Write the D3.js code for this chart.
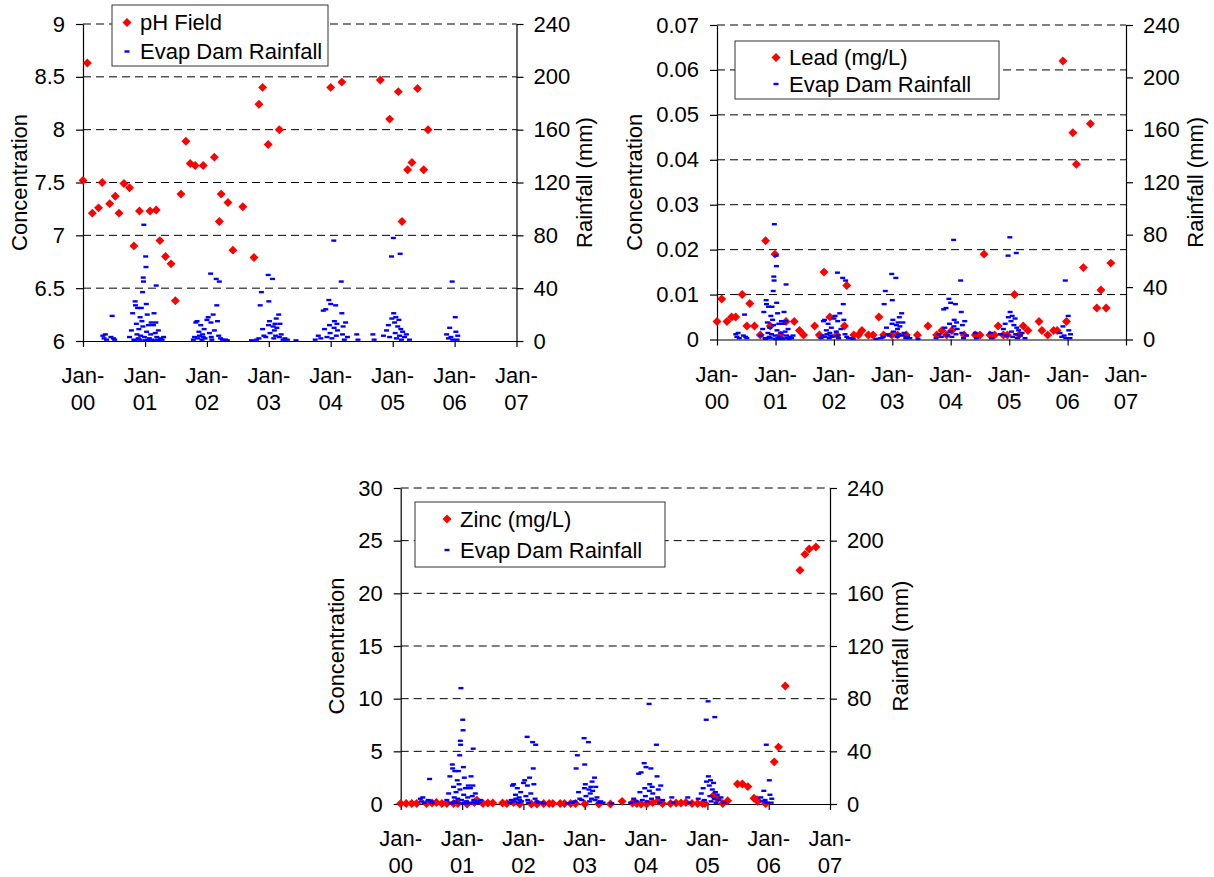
<!DOCTYPE html>
<html>
<head>
<meta charset="utf-8">
<script src="https://cdn.jsdelivr.net/npm/d3@7"></script>
<style>
  html, body { margin: 0; padding: 0; background: #fff; }
  svg { display: block; font-family: "Liberation Sans", Arial, sans-serif; }
</style>
</head>
<body>
<svg id="chart" width="1214" height="877"></svg>
<script>
// x axis: one tick every January, 2000 to 2007
const tickYears = [2000, 2001, 2002, 2003, 2004, 2005, 2006, 2007];
const tickYearLabels = ["00", "01", "02", "03", "04", "05", "06", "07"];
const rainTicks = [0, 40, 80, 120, 160, 200, 240];

// sample dates are decimal years
const phField = [
  [2000.00, 7.52], [2000.07, 8.63], [2000.15, 7.21], [2000.25, 7.26], [2000.31, 7.50],
  [2000.43, 7.30], [2000.52, 7.37], [2000.58, 7.21], [2000.66, 7.49], [2000.75, 7.45],
  [2000.82, 6.90], [2000.91, 7.23], [2001.08, 7.23], [2001.18, 7.24], [2001.24, 6.95],
  [2001.33, 6.80], [2001.42, 6.73], [2001.49, 6.38], [2001.58, 7.39], [2001.66, 7.89],
  [2001.73, 7.68], [2001.81, 7.66], [2001.94, 7.66], [2002.12, 7.74], [2002.20, 7.13],
  [2002.23, 7.39], [2002.34, 7.31], [2002.42, 6.86], [2002.58, 7.27], [2002.76, 6.79],
  [2002.84, 8.24], [2002.90, 8.40], [2002.99, 7.86], [2003.17, 8.00], [2004.00, 8.40],
  [2004.18, 8.45], [2004.80, 8.47], [2004.95, 8.10], [2005.09, 8.36], [2005.15, 7.13],
  [2005.24, 7.62], [2005.31, 7.69], [2005.40, 8.39], [2005.50, 7.62], [2005.57, 8.00]
];

const lead = [
  [2000.00, 0.004], [2000.08, 0.009], [2000.17, 0.004], [2000.25, 0.005], [2000.32, 0.005],
  [2000.43, 0.010], [2000.51, 0.003], [2000.56, 0.008], [2000.64, 0.003], [2000.74, 0.001],
  [2000.83, 0.022], [2000.91, 0.003], [2000.99, 0.019], [2001.09, 0.001], [2001.18, 0.004],
  [2001.32, 0.004], [2001.41, 0.002], [2001.48, 0.001], [2001.67, 0.003], [2001.75, 0.001],
  [2001.83, 0.015], [2001.93, 0.005], [2002.05, 0.001], [2002.18, 0.003], [2002.22, 0.012],
  [2002.34, 0.001], [2002.42, 0.001], [2002.48, 0.002], [2002.59, 0.001], [2002.67, 0.001],
  [2002.77, 0.005], [2002.85, 0.001], [2002.99, 0.001], [2003.09, 0.001], [2003.24, 0.001],
  [2003.43, 0.001], [2003.61, 0.003], [2003.76, 0.001], [2003.85, 0.002], [2003.93, 0.001],
  [2004.02, 0.002], [2004.23, 0.001], [2004.42, 0.001], [2004.50, 0.001], [2004.57, 0.019],
  [2004.67, 0.001], [2004.75, 0.001], [2004.81, 0.003], [2004.90, 0.001], [2004.97, 0.001],
  [2005.09, 0.010], [2005.17, 0.001], [2005.24, 0.003], [2005.32, 0.002], [2005.51, 0.004],
  [2005.56, 0.002], [2005.66, 0.001], [2005.76, 0.002], [2005.82, 0.002], [2005.92, 0.062],
  [2005.98, 0.004], [2006.09, 0.046], [2006.15, 0.039], [2006.27, 0.016], [2006.39, 0.048],
  [2006.50, 0.007], [2006.57, 0.011], [2006.66, 0.007], [2006.74, 0.017]
];

const zinc = [
  [2000.00, 0.05], [2000.09, 0.05], [2000.18, 0.05], [2000.26, 0.05], [2000.42, 0.05],
  [2000.51, 0.1], [2000.58, 0.15], [2000.67, 0.05], [2000.75, 0.05], [2000.86, 0.05],
  [2000.93, 0.05], [2001.08, 0.0], [2001.20, 0.15], [2001.24, 0.35], [2001.34, 0.05],
  [2001.42, 0.1], [2001.50, 0.1], [2001.66, 0.1], [2001.73, 0.05], [2001.84, 0.15],
  [2001.94, 0.0], [2002.13, 0.0], [2002.22, 0.0], [2002.33, 0.05], [2002.42, 0.05],
  [2002.48, 0.05], [2002.60, 0.05], [2002.67, 0.05], [2002.77, 0.05], [2002.85, 0.05],
  [2003.00, 0.0], [2003.23, 0.0], [2003.42, 0.0], [2003.61, 0.25], [2003.78, 0.1],
  [2003.85, 0.05], [2003.92, 0.0], [2004.01, 0.0], [2004.11, 0.15], [2004.20, 0.3],
  [2004.27, 0.05], [2004.40, 0.05], [2004.49, 0.1], [2004.57, 0.1], [2004.65, 0.15],
  [2004.75, 0.05], [2004.84, 0.05], [2004.92, 0.05], [2004.96, 0.05], [2005.10, 0.8],
  [2005.16, 0.5], [2005.25, 0.05], [2005.33, 0.3], [2005.49, 1.9], [2005.57, 1.9],
  [2005.66, 1.65], [2005.76, 0.55], [2005.81, 0.4], [2005.82, 0.25], [2005.95, 0.05],
  [2006.09, 4.0], [2006.16, 5.4], [2006.27, 11.2], [2006.51, 22.2], [2006.59, 23.7],
  [2006.66, 24.2], [2006.77, 24.4]
];

// Evap Dam rainfall (mm), same series on every panel
const rainfall = [
  [2000.32, 4], [2000.34, 2], [2000.36, 5], [2000.38, 1], [2000.45, 3], [2000.47, 19],
  [2000.49, 2], [2000.51, 1],
  [2000.75, 3], [2000.78, 8], [2000.80, 21], [2000.82, 1], [2000.83, 0.5], [2000.84, 30],
  [2000.845, 27], [2000.86, 13], [2000.87, 5], [2000.88, 25], [2000.89, 2], [2000.90, 9],
  [2000.91, 1], [2000.92, 18], [2000.93, 4], [2000.94, 25], [2000.95, 15], [2000.96, 37],
  [2000.965, 11], [2000.97, 48], [2000.975, 45], [2000.98, 88], [2000.99, 3], [2000.995, 0.5],
  [2001.01, 64], [2001.015, 56], [2001.02, 28], [2001.025, 7], [2001.035, 20], [2001.04, 1],
  [2001.05, 0.5], [2001.055, 12], [2001.07, 2], [2001.09, 5], [2001.10, 14], [2001.11, 1],
  [2001.12, 0.5], [2001.135, 12], [2001.145, 21], [2001.165, 6], [2001.175, 14], [2001.18, 42],
  [2001.19, 3], [2001.20, 1], [2001.215, 8], [2001.23, 0.5], [2001.25, 2], [2001.275, 1],
  [2001.30, 3],
  [2001.78, 1], [2001.80, 3], [2001.82, 14], [2001.84, 15], [2001.85, 2], [2001.87, 7],
  [2001.88, 4], [2001.90, 12], [2001.92, 1], [2001.93, 5], [2001.94, 3], [2001.955, 9],
  [2001.97, 2], [2002.00, 16], [2002.02, 18], [2002.04, 6], [2002.06, 51], [2002.065, 14],
  [2002.07, 3], [2002.08, 1], [2002.10, 20], [2002.12, 8], [2002.15, 47], [2002.16, 27],
  [2002.17, 15], [2002.20, 45], [2002.19, 4], [2002.22, 2], [2002.25, 1], [2002.30, 1],
  [2002.33, 0.5],
  [2002.72, 0.5], [2002.80, 1], [2002.84, 2], [2002.86, 27], [2002.88, 37], [2002.90, 9],
  [2002.92, 4], [2002.95, 3], [2002.99, 50], [2002.995, 12], [2003.00, 30], [2003.01, 15],
  [2003.02, 6], [2003.06, 47], [2003.07, 11], [2003.08, 2], [2003.09, 8], [2003.10, 13],
  [2003.11, 4], [2003.12, 17], [2003.13, 10], [2003.16, 20], [2003.17, 3], [2003.18, 13],
  [2003.20, 5], [2003.23, 1], [2003.26, 2], [2003.30, 1], [2003.44, 0.5],
  [2003.75, 1], [2003.80, 4], [2003.84, 2], [2003.88, 23], [2003.90, 9], [2003.92, 24],
  [2003.94, 3], [2003.97, 31], [2003.98, 12], [2003.99, 6], [2004.00, 28], [2004.02, 2],
  [2004.05, 76], [2004.055, 10], [2004.06, 15], [2004.08, 27], [2004.09, 4], [2004.10, 13],
  [2004.11, 8], [2004.17, 45], [2004.18, 21], [2004.19, 5], [2004.20, 11], [2004.22, 1],
  [2004.24, 14], [2004.27, 3], [2004.42, 5], [2004.44, 1],
  [2004.68, 5], [2004.70, 1], [2004.85, 4], [2004.90, 8], [2004.93, 12], [2004.95, 3],
  [2004.98, 64], [2004.985, 17], [2005.01, 78], [2005.015, 21], [2005.03, 14], [2005.04, 6],
  [2005.05, 18], [2005.06, 2], [2005.08, 11], [2005.10, 16], [2005.11, 4], [2005.12, 66],
  [2005.13, 9], [2005.14, 1], [2005.16, 7], [2005.19, 3], [2005.22, 5], [2005.27, 1],
  [2005.87, 5], [2005.90, 2], [2005.92, 10], [2005.94, 3], [2005.96, 45], [2005.97, 1],
  [2006.01, 18], [2006.02, 7], [2006.04, 1], [2006.05, 4]
];

const panels = [
  { name: "pH Field", data: phField, yDomain: [6, 9],
    yTicks: [6, 6.5, 7, 7.5, 8, 8.5, 9],
    left: 83, right: 516.5, top: 24, bottom: 341, leftTitleX: 19, rightTitleX: 584.5,
    legend: { x: 112, y: 5, w: 216, h: 61, mx: 127, tx: 140, r1: 22.5, r2: 51.5 } },
  { name: "Lead (mg/L)", data: lead, yDomain: [0, 0.07],
    yTicks: [0, 0.01, 0.02, 0.03, 0.04, 0.05, 0.06, 0.07],
    left: 717, right: 1126, top: 25, bottom: 339.5, leftTitleX: 634, rightTitleX: 1195,
    legend: { x: 735, y: 41, w: 264, h: 58, mx: 776, tx: 789, r1: 57.5, r2: 84 } },
  { name: "Zinc (mg/L)", data: zinc, yDomain: [0, 30],
    yTicks: [0, 5, 10, 15, 20, 25, 30],
    left: 400.7, right: 830, top: 488, bottom: 804, leftTitleX: 336, rightTitleX: 900,
    legend: { x: 415, y: 502, w: 250, h: 65, mx: 447, tx: 460, r1: 519, r2: 550 } }
];

const fontSize = "22px";
const red = "#ff0000";
const blue = "#0000ff";

const toDate = (y) => {
  const yr = Math.floor(y);
  const start = Date.UTC(yr, 0, 1);
  const end = Date.UTC(yr + 1, 0, 1);
  return new Date(start + (y - yr) * (end - start));
};

const svg = d3.select("#chart");
const diamond = d3.symbol(d3.symbolSquare, 40);

const styleAxis = (g) => {
  g.select(".domain").attr("stroke", "#000").attr("stroke-width", 1.2);
  g.selectAll(".tick line").attr("stroke", "#000").attr("stroke-width", 1.2);
  g.selectAll("text").attr("font-size", fontSize).attr("font-family", null).attr("fill", "#000");
};

const drawPanel = (p) => {
  const g = svg.append("g");
  const x = d3.scaleUtc().domain([toDate(2000), toDate(2007)]).range([p.left, p.right]);
  const y = d3.scaleLinear().domain(p.yDomain).range([p.bottom, p.top]);
  const y2 = d3.scaleLinear().domain([0, 240]).range([p.bottom, p.top]);

  // dashed gridlines at the concentration ticks
  g.append("g")
    .selectAll("line")
    .data(p.yTicks.slice(1))
    .join("line")
    .attr("x1", p.left)
    .attr("x2", p.right)
    .attr("y1", (d) => y(d))
    .attr("y2", (d) => y(d))
    .attr("stroke", "#000")
    .attr("stroke-width", 1)
    .attr("stroke-dasharray", "8,5");

  // left axis
  g.append("g")
    .attr("transform", `translate(${p.left},0)`)
    .call(d3.axisLeft(y).tickValues(p.yTicks).tickSize(7).tickSizeOuter(0).tickPadding(11).tickFormat((d) => String(d)))
    .call(styleAxis);

  // right axis
  g.append("g")
    .attr("transform", `translate(${p.right},0)`)
    .call(d3.axisRight(y2).tickValues(rainTicks).tickSize(7).tickSizeOuter(0).tickPadding(10))
    .call(styleAxis);

  // bottom axis, labels drawn on two lines
  g.append("g")
    .attr("transform", `translate(0,${p.bottom})`)
    .call(d3.axisBottom(x).tickValues(tickYears.map(toDate)).tickSize(6).tickSizeOuter(0).tickFormat(""))
    .call(styleAxis);

  const lbl = g.append("g")
    .selectAll("text")
    .data(tickYears)
    .join("text")
    .attr("text-anchor", "middle")
    .attr("font-size", fontSize)
    .attr("fill", "#000");
  lbl.append("tspan")
    .attr("x", (d) => x(toDate(d)))
    .attr("y", p.bottom + 42)
    .text("Jan-");
  lbl.append("tspan")
    .attr("x", (d) => x(toDate(d)))
    .attr("y", p.bottom + 69)
    .text((d, i) => tickYearLabels[i]);

  // axis titles
  const midY = (p.top + p.bottom) / 2;
  g.append("text")
    .attr("transform", `translate(${p.leftTitleX},${midY}) rotate(-90)`)
    .attr("text-anchor", "middle")
    .attr("dy", "0.35em")
    .attr("font-size", fontSize)
    .text("Concentration");
  g.append("text")
    .attr("transform", `translate(${p.rightTitleX},${midY}) rotate(-90)`)
    .attr("text-anchor", "middle")
    .attr("dy", "0.35em")
    .attr("font-size", fontSize)
    .text("Rainfall (mm)");

  // concentration points
  g.append("g")
    .selectAll("path")
    .data(p.data)
    .join("path")
    .attr("d", diamond)
    .attr("transform", (d) => `translate(${x(toDate(d[0]))},${y(d[1])}) rotate(45)`)
    .attr("fill", red);

  // rainfall dashes
  g.append("g")
    .selectAll("rect")
    .data(rainfall)
    .join("rect")
    .attr("x", (d) => x(toDate(d[0])) - 2.5)
    .attr("y", (d) => y2(d[1]) - 1.2)
    .attr("width", 5)
    .attr("height", 2.4)
    .attr("fill", blue);

  // legend
  const L = p.legend;
  const lg = g.append("g");
  lg.append("rect")
    .attr("x", L.x).attr("y", L.y)
    .attr("width", L.w).attr("height", L.h)
    .attr("fill", "#fff")
    .attr("stroke", "#333")
    .attr("stroke-width", 1);
  lg.append("path")
    .attr("d", diamond)
    .attr("transform", `translate(${L.mx},${L.r1}) rotate(45)`)
    .attr("fill", red);
  lg.append("text")
    .attr("x", L.tx).attr("y", L.r1)
    .attr("dy", "0.35em")
    .attr("font-size", fontSize)
    .text(p.name);
  lg.append("rect")
    .attr("x", L.mx - 2.5).attr("y", L.r2 - 1.2)
    .attr("width", 5).attr("height", 2.4)
    .attr("fill", blue);
  lg.append("text")
    .attr("x", L.tx).attr("y", L.r2)
    .attr("dy", "0.35em")
    .attr("font-size", fontSize)
    .text("Evap Dam Rainfall");
};

panels.forEach(drawPanel);
</script>
</body>
</html>
